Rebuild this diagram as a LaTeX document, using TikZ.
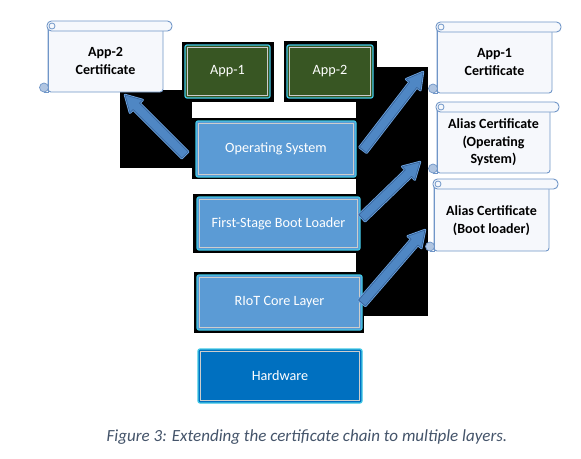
\documentclass[tikz,border=0pt]{standalone}
\usepackage{fontspec}
\setmainfont{Carlito}
\usetikzlibrary{calc}
\definecolor{boxblue}{RGB}{91,155,213}
\definecolor{hwblue}{RGB}{0,112,192}
\definecolor{appgreen}{RGB}{56,86,35}
\definecolor{glowcol}{RGB}{64,200,230}
\definecolor{innerline}{RGB}{205,205,205}
\definecolor{arrowfill}{RGB}{79,135,196}
\definecolor{arrowline}{RGB}{55,100,155}
\definecolor{arrowglow}{RGB}{110,165,225}
\definecolor{scrollline}{RGB}{112,150,200}
\definecolor{scrollfill}{RGB}{246,248,252}
\definecolor{captioncol}{RGB}{68,84,106}
\tikzset{
  layer/.style={draw=glowcol, line width=1.2pt, rounded corners=2pt, text=white,
    font=\fontsize{14.2}{16}\selectfont, inner sep=0pt,
    path picture={\draw[innerline, line width=0.8pt, sharp corners]
      ([shift={(2.5pt,-2.5pt)}]path picture bounding box.north west) rectangle
      ([shift={(-2.5pt,2.5pt)}]path picture bounding box.south east);}},
  scrollpart/.style={draw=scrollline, fill=scrollfill, line width=0.9pt},
  scrolltext/.style={align=center, font=\bfseries\fontsize{14}{17.5}\selectfont, text=black},
  artifact/.style={fill=black},
  blockarrowglow/.style={draw=arrowglow, line width=2.4pt, line join=round},
  blockarrowbody/.style={fill=arrowfill, draw=arrowline, line width=0.7pt, line join=round}
}
\newcommand\blockarrow[2]{%
  \path[blockarrowglow]
    ($(#1)!4.5pt!90:(#2)$) -- ($($(#2)!16pt!(#1)$)!4.5pt!-90:(#1)$) --
    ($($(#2)!16pt!(#1)$)!9pt!-90:(#1)$) -- (#2) --
    ($($(#2)!16pt!(#1)$)!9pt!90:(#1)$) -- ($($(#2)!16pt!(#1)$)!4.5pt!90:(#1)$) --
    ($(#1)!4.5pt!-90:(#2)$) -- cycle;
  \path[blockarrowbody]
    ($(#1)!4.5pt!90:(#2)$) -- ($($(#2)!16pt!(#1)$)!4.5pt!-90:(#1)$) --
    ($($(#2)!16pt!(#1)$)!9pt!-90:(#1)$) -- (#2) --
    ($($(#2)!16pt!(#1)$)!9pt!90:(#1)$) -- ($($(#2)!16pt!(#1)$)!4.5pt!90:(#1)$) --
    ($(#1)!4.5pt!-90:(#2)$) -- cycle;}
% #1 left x, #2 top y, #3 body right x, #4 bottom y
\newcommand\scrollshape[4]{%
  \filldraw[scrollpart, rounded corners=3pt] (#1,{#2+5}) rectangle (#3,#4);
  \filldraw[draw=scrollline, fill=scrollline!55, line width=0.7pt] ({#1-4},{#4-4.5}) circle (4.5pt);
  \draw[scrollline, line width=0.9pt] (#1,{#2+5}) -- (#1,#4) -- ({#1-4},#4);
  \filldraw[scrollpart, rounded corners=4.5pt] ({#1-1},#2) rectangle ({#3+9},{#2+10});
  \draw[scrollline, line width=0.8pt] ({#1+4},{#2+5}) circle (3pt);}
\begin{document}
\begin{tikzpicture}[x=1pt,y=-1pt]
\useasboundingbox[fill=white] (0,0) rectangle (581,458);
% black rendering backgrounds
\fill[artifact] (120,90) rectangle (192,168);
\fill[artifact] (182,42) rectangle (274,102);
\fill[artifact] (284,41) rectangle (377,102);
\fill[artifact] (192,118) rectangle (360,179);
\fill[artifact] (193,194) rectangle (360,253);
\fill[artifact] (194,272) rectangle (364,333);
\fill[artifact] (356,67) rectangle (428,316);
% layers
\node[layer, fill=appgreen, minimum width=85pt, minimum height=53pt] (app1) at (227.5,71.5) {App-1};
\node[layer, fill=appgreen, minimum width=86pt, minimum height=53pt] (app2) at (330,71.5) {App-2};
\node[layer, fill=boxblue, minimum width=160pt, minimum height=56pt] (os) at (276,149) {Operating System};
\node[layer, fill=boxblue, minimum width=163pt, minimum height=53pt] (fsbl) at (278.5,223.5) {First-Stage Boot Loader};
\node[layer, fill=boxblue, minimum width=165pt, minimum height=55pt] (riot) at (279.5,302.5) {RIoT Core Layer};
\node[layer, fill=hwblue, minimum width=164pt, minimum height=54pt] (hw) at (280,376) {Hardware};
% certificates
\scrollshape{48}{21}{163}{92}
\node[scrolltext] (cert2) at (105.5,61) {App-2\\Certificate};
\scrollshape{437}{22}{552}{93}
\node[scrolltext] (cert1) at (494.5,62) {App-1\\Certificate};
\scrollshape{437}{102}{550}{173}
\node[scrolltext] (aliasos) at (493.5,142.5) {Alias Certificate\\(Operating\\System)};
\scrollshape{434}{179}{549}{251}
\node[scrolltext] (aliasbl) at (491.5,220.5) {Alias Certificate\\(Boot loader)};
% arrows
\coordinate (t0) at (185,155); \coordinate (h0) at (125,95);
\coordinate (t1) at (363,150); \coordinate (h1) at (423,72);
\coordinate (t2) at (362,218); \coordinate (h2) at (420,162);
\coordinate (t3) at (362,303); \coordinate (h3) at (425,230);
\blockarrow{t0}{h0}
\blockarrow{t1}{h1}
\blockarrow{t2}{h2}
\blockarrow{t3}{h3}
% caption
\node[font=\itshape\fontsize{17}{19}\selectfont, text=captioncol] (caption) at (307,437)
  {Figure 3: Extending the certificate chain to multiple layers.};
\end{tikzpicture}
\end{document}
